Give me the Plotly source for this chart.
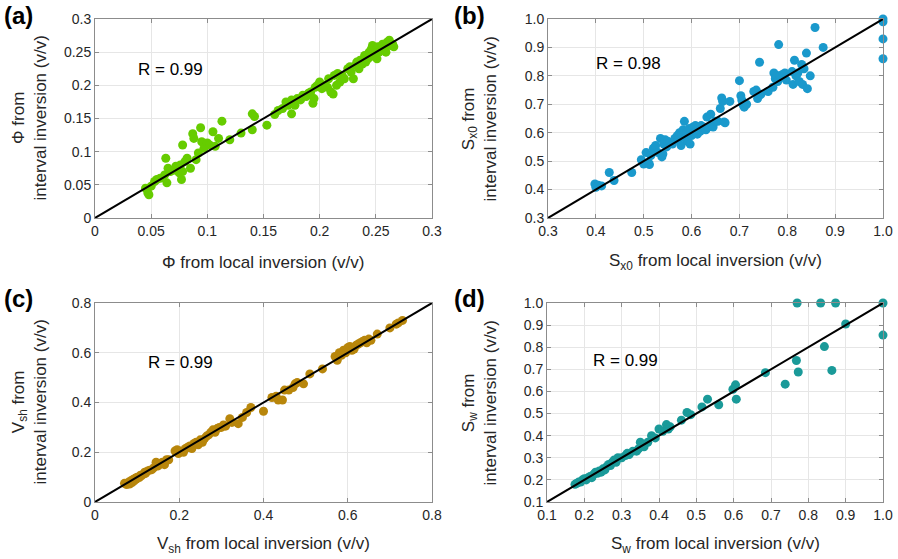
import plotly.graph_objects as go

# ---------------- data ----------------
a_x = [0.045,0.047,0.048,0.050,0.053,0.055,0.058,0.062,0.063,0.064,0.065,0.067,0.070,0.072,0.075,0.076,0.077,0.078,0.078,0.080,
       0.082,0.085,0.087,0.088,0.090,0.092,0.094,0.095,0.097,0.100,0.102,0.105,0.107,0.110,0.113,0.120,0.130,0.140,0.140,0.142,
       0.153,0.160,0.163,0.167,0.170,0.172,0.175,0.175,0.178,0.180,0.183,0.185,0.188,0.190,0.192,0.194,0.195,0.196,0.198,0.200,
       0.202,0.205,0.207,0.208,0.210,0.212,0.213,0.215,0.216,0.218,0.220,0.222,0.225,0.227,0.228,0.230,0.232,0.233,0.235,0.236,
       0.238,0.240,0.241,0.243,0.244,0.245,0.246,0.247,0.248,0.250,0.251,0.252,0.253,0.255,0.256,0.258,0.259,0.260,0.262,0.263,
       0.265,0.266]
a_y = [0.045,0.038,0.035,0.048,0.055,0.058,0.060,0.065,0.090,0.053,0.075,0.070,0.072,0.078,0.068,0.080,0.058,0.070,0.110,0.085,
       0.090,0.075,0.127,0.120,0.088,0.098,0.136,0.115,0.105,0.113,0.110,0.130,0.108,0.120,0.146,0.118,0.128,0.133,0.157,0.153,
       0.140,0.156,0.162,0.165,0.175,0.170,0.157,0.178,0.170,0.180,0.178,0.185,0.183,0.188,0.190,0.173,0.180,0.197,0.200,0.205,
       0.195,0.200,0.197,0.210,0.190,0.187,0.215,0.200,0.218,0.205,0.215,0.210,0.225,0.228,0.220,0.210,0.230,0.235,0.225,0.238,
       0.232,0.245,0.235,0.240,0.250,0.243,0.255,0.260,0.245,0.253,0.240,0.258,0.250,0.255,0.262,0.260,0.250,0.265,0.268,0.260,
       0.262,0.258]

b_x = [0.398,0.400,0.405,0.412,0.428,0.438,0.475,0.495,0.500,0.505,0.510,0.512,0.515,0.520,0.525,0.530,0.535,0.538,0.540,0.542,
       0.545,0.548,0.550,0.555,0.560,0.565,0.570,0.572,0.575,0.578,0.580,0.582,0.585,0.587,0.590,0.592,0.595,0.597,0.600,0.603,
       0.605,0.608,0.610,0.612,0.615,0.618,0.620,0.625,0.630,0.632,0.635,0.640,0.642,0.645,0.650,0.655,0.660,0.663,0.665,0.668,
       0.670,0.680,0.700,0.703,0.705,0.707,0.710,0.715,0.730,0.735,0.738,0.742,0.745,0.760,0.770,0.772,0.775,0.778,0.780,0.782,
       0.785,0.790,0.795,0.798,0.810,0.812,0.815,0.818,0.822,0.825,0.830,0.832,0.835,0.840,0.842,0.848,0.858,0.875,1.000,1.000,
       1.000,1.000]
b_y = [0.420,0.408,0.415,0.413,0.460,0.432,0.460,0.505,0.490,0.530,0.495,0.488,0.520,0.545,0.555,0.530,0.580,0.515,0.525,0.560,
       0.575,0.550,0.570,0.565,0.560,0.580,0.590,0.575,0.600,0.555,0.595,0.610,0.640,0.580,0.600,0.570,0.615,0.560,0.590,0.620,
       0.600,0.625,0.610,0.595,0.620,0.605,0.625,0.620,0.610,0.655,0.620,0.665,0.630,0.620,0.640,0.640,0.685,0.722,0.710,0.638,
       0.635,0.710,0.783,0.730,0.715,0.700,0.690,0.700,0.745,0.750,0.720,0.848,0.735,0.745,0.760,0.810,0.790,0.800,0.780,0.910,
       0.800,0.805,0.810,0.785,0.815,0.770,0.855,0.800,0.810,0.780,0.840,0.770,0.825,0.880,0.755,0.800,0.970,0.900,1.000,0.990,
       0.930,0.860]

c_x = [0.070,0.075,0.080,0.082,0.085,0.088,0.090,0.093,0.095,0.098,0.100,0.105,0.108,0.110,0.115,0.118,0.120,0.125,0.130,0.135,
       0.140,0.145,0.150,0.155,0.160,0.165,0.170,0.175,0.190,0.195,0.198,0.200,0.205,0.210,0.215,0.220,0.225,0.230,0.235,0.240,
       0.245,0.250,0.255,0.260,0.265,0.270,0.275,0.280,0.285,0.290,0.295,0.300,0.305,0.310,0.320,0.325,0.340,0.350,0.360,0.370,
       0.400,0.420,0.430,0.435,0.445,0.450,0.460,0.470,0.475,0.480,0.495,0.510,0.540,0.570,0.575,0.580,0.585,0.590,0.595,0.600,
       0.605,0.610,0.615,0.620,0.625,0.630,0.635,0.640,0.645,0.650,0.655,0.670,0.700,0.715,0.720,0.730]
c_y = [0.075,0.070,0.080,0.072,0.085,0.078,0.090,0.085,0.095,0.092,0.100,0.098,0.108,0.105,0.112,0.120,0.115,0.125,0.128,0.130,
       0.138,0.160,0.145,0.155,0.160,0.150,0.170,0.170,0.205,0.210,0.195,0.200,0.205,0.200,0.215,0.220,0.225,0.215,0.235,0.240,
       0.230,0.250,0.240,0.255,0.265,0.270,0.280,0.290,0.280,0.295,0.300,0.300,0.310,0.305,0.335,0.320,0.315,0.340,0.360,0.380,
       0.365,0.420,0.425,0.410,0.410,0.450,0.450,0.460,0.475,0.480,0.475,0.515,0.535,0.585,0.570,0.600,0.590,0.610,0.600,0.620,
       0.625,0.610,0.615,0.630,0.635,0.640,0.645,0.650,0.640,0.655,0.650,0.675,0.700,0.715,0.720,0.730]

d_x = [0.175,0.180,0.185,0.190,0.195,0.200,0.205,0.210,0.215,0.220,0.225,0.230,0.235,0.240,0.245,0.250,0.255,0.260,0.265,0.270,
       0.275,0.280,0.285,0.290,0.300,0.310,0.315,0.320,0.330,0.340,0.345,0.350,0.355,0.360,0.370,0.380,0.390,0.400,0.410,0.420,
       0.425,0.430,0.460,0.475,0.485,0.515,0.530,0.560,0.598,0.605,0.607,0.685,0.738,0.768,0.773,0.770,0.833,0.843,0.863,0.873,
       0.900,1.000,1.000]
d_y = [0.180,0.185,0.190,0.190,0.200,0.205,0.200,0.210,0.215,0.210,0.225,0.235,0.230,0.240,0.235,0.250,0.245,0.260,0.270,0.265,
       0.280,0.290,0.280,0.300,0.300,0.310,0.320,0.315,0.330,0.330,0.340,0.370,0.360,0.350,0.370,0.400,0.390,0.430,0.420,0.450,
       0.430,0.440,0.470,0.505,0.495,0.530,0.565,0.540,0.610,0.630,0.565,0.685,0.633,0.740,0.688,1.000,1.000,0.803,0.695,1.000,
       0.905,1.000,0.855]

a_range = [0, 0.3]
b_range = [0.3, 1.0]
c_range = [0, 0.8]
d_range = [0.1, 1.0]
a_ticks = [0, 0.05, 0.1, 0.15, 0.2, 0.25, 0.3]
a_ticklabels = ["0", "0.05", "0.1", "0.15", "0.2", "0.25", "0.3"]
b_ticks = [0.3, 0.4, 0.5, 0.6, 0.7, 0.8, 0.9, 1.0]
c_ticks = [0, 0.2, 0.4, 0.6, 0.8]
c_ticklabels = ["0", "0.2", "0.4", "0.6", "0.8"]
d_ticks = [0.1, 0.2, 0.3, 0.4, 0.5, 0.6, 0.7, 0.8, 0.9, 1.0]
r_values = ["R = 0.99", "R = 0.98", "R = 0.99", "R = 0.99"]

colors = ["#66CC00", "#1A99CC", "#B8860B", "#1A9A99"]

W, H = 898, 559
FONT = "Liberation Sans, Arial, sans-serif"

# pixel boxes: (left, right, top, bottom)
boxes = [(95, 432, 19, 218), (548, 883, 19, 218), (95, 432, 303, 502), (547, 883, 303, 502)]

fig = go.Figure()

panels = [
    (a_x, a_y, a_range, a_ticks, a_ticklabels),
    (b_x, b_y, b_range, b_ticks, [f"{t:.1f}" for t in b_ticks]),
    (c_x, c_y, c_range, c_ticks, c_ticklabels),
    (d_x, d_y, d_range, d_ticks, [f"{t:.1f}" for t in d_ticks]),
]
xtitles = ["Φ from local inversion (v/v)",
           "S<sub>x0</sub> from local inversion (v/v)",
           "V<sub>sh</sub> from local inversion (v/v)",
           "S<sub>w</sub> from local inversion (v/v)"]
ytitles = ["Φ from<br>interval inversion (v/v)",
           "S<sub>x0</sub> from<br>interval inversion (v/v)",
           "V<sub>sh</sub> from<br>interval inversion (v/v)",
           "S<sub>w</sub> from<br>interval inversion (v/v)"]
labels = ["(a)", "(b)", "(c)", "(d)"]
r_pos = [(170, 70), (628, 64), (180, 362), (625, 360)]

annotations = []
for i, (px, py, rng, tv, tt) in enumerate(panels):
    n = "" if i == 0 else str(i + 1)
    xa, ya = "x" + n, "y" + n
    l, r, t, b = boxes[i]
    axis_common = dict(
        range=rng, tickvals=tv, ticktext=tt, showgrid=True, gridcolor="#E6E6E6", gridwidth=1,
        zeroline=False, showline=True, linecolor="#8C8C8C", linewidth=1, mirror="allticks",
        ticks="inside", ticklen=4, tickcolor="#8C8C8C", automargin=False,
        tickfont=dict(family=FONT, size=14, color="#262626"),
    )
    fig.update_layout(**{
        "xaxis" + n: dict(domain=[l / W, r / W], anchor=ya, **axis_common),
        "yaxis" + n: dict(domain=[1 - b / H, 1 - t / H], anchor=xa, **axis_common),
    })
    fig.add_trace(go.Scatter(x=px, y=py, mode="markers", xaxis=xa, yaxis=ya,
                             marker=dict(size=9, color=colors[i], line=dict(width=0)),
                             cliponaxis=False, showlegend=False, hoverinfo="skip"))
    fig.add_trace(go.Scatter(x=rng, y=rng, mode="lines", xaxis=xa, yaxis=ya,
                             line=dict(color="black", width=2), showlegend=False, hoverinfo="skip"))
    cx = (l + r) / 2
    annotations.append(dict(text=xtitles[i], x=cx / W, y=1 - 262 / H if i < 2 else 1 - 545 / H,
                            xref="paper", yref="paper", showarrow=False, xanchor="center", yanchor="middle",
                            font=dict(family=FONT, size=17, color="#262626")))
    yx = 29 if i in (0, 2) else 479
    annotations.append(dict(text=ytitles[i], x=yx / W, y=1 - ((t + b) / 2) / H,
                            xref="paper", yref="paper", showarrow=False, textangle=-90,
                            xanchor="center", yanchor="middle",
                            font=dict(family=FONT, size=17, color="#262626")))
    lx = 2 if i in (0, 2) else 452
    ly = 0 if i < 2 else 283
    annotations.append(dict(text="<b>" + labels[i] + "</b>", x=lx / W, y=1 - ly / H,
                            xref="paper", yref="paper", showarrow=False, xanchor="left", yanchor="top",
                            font=dict(family=FONT, size=24, color="black")))
    rx, ry = r_pos[i]
    annotations.append(dict(text=r_values[i], x=rx / W, y=1 - ry / H, xref="paper", yref="paper",
                            showarrow=False, xanchor="center", yanchor="middle",
                            font=dict(family=FONT, size=17, color="black")))

fig.update_layout(width=W, height=H, margin=dict(l=0, r=0, t=0, b=0, autoexpand=False),
                  paper_bgcolor="white", plot_bgcolor="white", annotations=annotations)

fig.write_html("out.html")
